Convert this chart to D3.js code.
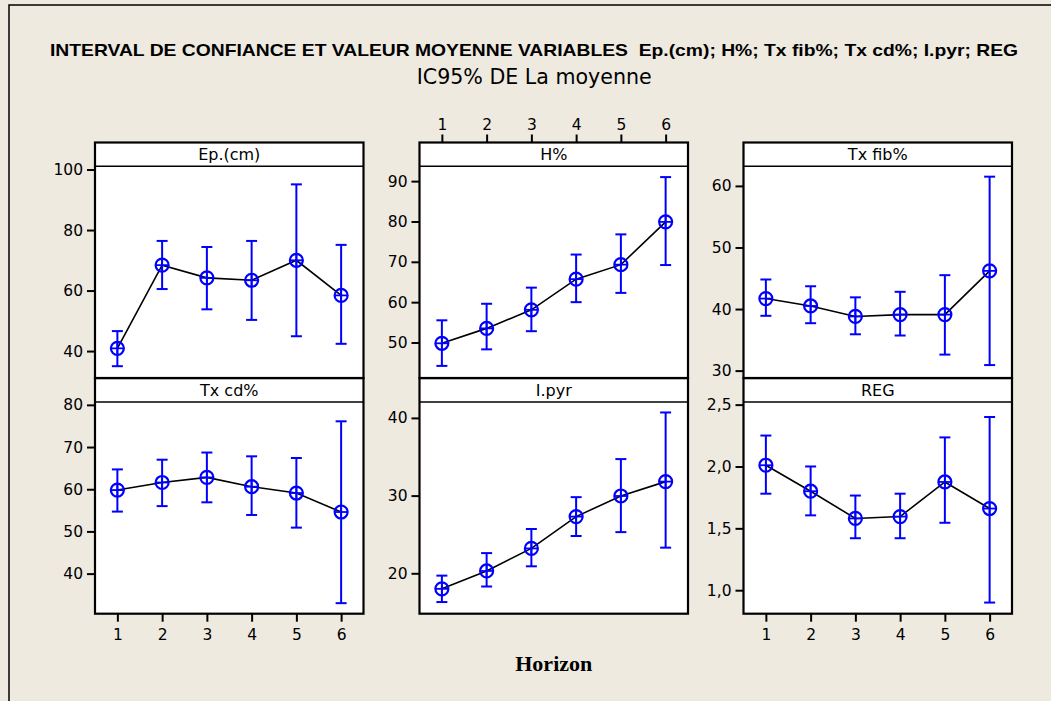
<!DOCTYPE html>
<html>
<head>
<meta charset="utf-8">
<script src="https://cdn.jsdelivr.net/npm/d3@7"></script>
<style>
  html, body { margin: 0; padding: 0; background: #EEEAE0; }
  svg { display: block; }
</style>
</head>
<body>
<div id="chart"></div>
<script>
// Horizon categories (x axis)
const horizons = [1, 2, 3, 4, 5, 6];

// Ep.(cm): mean and 95% CI
const epMean = [40.9, 68.4, 64.2, 63.4, 70.0, 58.4];
const epLow  = [35.0, 60.5, 53.8, 50.3, 44.9, 42.4];
const epHigh = [46.6, 76.4, 74.4, 76.4, 95.1, 75.1];

// H%
const hMean = [49.8, 53.5, 58.1, 65.7, 69.3, 79.9];
const hLow  = [44.2, 48.3, 52.8, 60.0, 62.3, 69.2];
const hHigh = [55.5, 59.6, 63.6, 71.8, 76.8, 91.0];

// Tx fib%
const fibMean = [41.7, 40.5, 38.8, 39.1, 39.1, 46.2];
const fibLow  = [38.9, 37.7, 35.9, 35.7, 32.6, 30.9];
const fibHigh = [44.8, 43.7, 41.9, 42.8, 45.5, 61.5];

// Tx cd%
const cdMean = [59.8, 61.6, 62.8, 60.6, 59.1, 54.6];
const cdLow  = [54.7, 56.0, 56.9, 53.9, 50.9, 33.0];
const cdHigh = [64.7, 67.0, 68.7, 67.8, 67.4, 76.1];

// I.pyr
const pyrMean = [18.0, 20.3, 23.2, 27.3, 29.95, 31.8];
const pyrLow  = [16.3, 18.3, 20.9, 24.8, 25.3, 23.3];
const pyrHigh = [19.7, 22.6, 25.7, 29.8, 34.7, 40.7];

// REG
const regMean = [2.01, 1.80, 1.58, 1.595, 1.875, 1.66];
const regLow  = [1.78, 1.605, 1.42, 1.42, 1.545, 0.90];
const regHigh = [2.25, 2.00, 1.765, 1.78, 2.235, 2.40];

// Panel names, y tick labels and y ranges
const panelNames = ["Ep.(cm)", "H%", "Tx fib%", "Tx cd%", "I.pyr", "REG"];
const epTicks  = [40, 60, 80, 100];
const hTicks   = [50, 60, 70, 80, 90];
const fibTicks = [30, 40, 50, 60];
const cdTicks  = [40, 50, 60, 70, 80];
const pyrTicks = [20, 30, 40];
const regTicks = [1.0, 1.5, 2.0, 2.5];
const epRange  = [31.1, 101.1];
const hRange   = [41.2, 93.7];
const fibRange = [28.8, 63.2];
const cdRange  = [30.5, 80.7];
const pyrRange = [14.8, 42.06];
const regRange = [0.81, 2.522];

const titleText = "INTERVAL DE CONFIANCE ET VALEUR MOYENNE VARIABLES  Ep.(cm); H%; Tx fib%; Tx cd%; I.pyr; REG";
const subtitleText = "IC95% DE La moyenne";
const xLabel = "Horizon";

const panels = [
  { name: panelNames[0], mean: epMean,  low: epLow,  high: epHigh,  ticks: epTicks,  range: epRange,  col: 0, row: 0, xAxis: null },
  { name: panelNames[1], mean: hMean,   low: hLow,   high: hHigh,   ticks: hTicks,   range: hRange,   col: 1, row: 0, xAxis: "top" },
  { name: panelNames[2], mean: fibMean, low: fibLow, high: fibHigh, ticks: fibTicks, range: fibRange, col: 2, row: 0, xAxis: null },
  { name: panelNames[3], mean: cdMean,  low: cdLow,  high: cdHigh,  ticks: cdTicks,  range: cdRange,  col: 0, row: 1, xAxis: "bottom" },
  { name: panelNames[4], mean: pyrMean, low: pyrLow, high: pyrHigh, ticks: pyrTicks, range: pyrRange, col: 1, row: 1, xAxis: null },
  { name: panelNames[5], mean: regMean, low: regLow, high: regHigh, ticks: regTicks, range: regRange, col: 2, row: 1, xAxis: "bottom", comma: true }
];

const W = 1051, H = 701;
const colX = [95, 419.5, 743.5];
const panelW = 268.5;
const rowTop = [142.5, 378.2];
const stripH = 23.7;
const plotH = 211.8;
const blue = "#0000FF";
const tickFont = "DejaVu Sans, Verdana, sans-serif";

const svg = d3.select("#chart").append("svg")
  .attr("width", W).attr("height", H);

svg.append("rect").attr("width", W).attr("height", H).attr("fill", "#EEEAE0");

// outer frame (left and top edges visible)
svg.append("path")
  .attr("d", `M9,${H + 5} L9,5 L${W + 5},5`)
  .attr("fill", "none").attr("stroke", "#000").attr("stroke-width", 1.5);

// titles
svg.append("text")
  .attr("x", 50).attr("y", 56)
  .attr("textLength", 968).attr("lengthAdjust", "spacingAndGlyphs")
  .style("white-space", "pre")
  .attr("font-family", "Liberation Sans, Arial, sans-serif")
  .attr("font-weight", "bold").attr("font-size", 17)
  .attr("fill", "#000")
  .text(titleText);

svg.append("text")
  .attr("x", 416.7).attr("y", 84.3)
  .attr("textLength", 235).attr("lengthAdjust", "spacingAndGlyphs")
  .attr("font-family", tickFont).attr("font-size", 21)
  .attr("fill", "#000")
  .text(subtitleText);

panels.forEach(p => {
  const x0 = colX[p.col];
  const top = rowTop[p.row];
  const plotTop = top + stripH;
  const g = svg.append("g");

  const x = d3.scaleLinear().domain([0.5, 6.5]).range([x0, x0 + panelW]);
  const y = d3.scaleLinear().domain(p.range).range([plotTop + plotH, plotTop]);

  // plot area and strip
  g.append("rect")
    .attr("x", x0).attr("y", plotTop).attr("width", panelW).attr("height", plotH)
    .attr("fill", "#fff");
  g.append("rect")
    .attr("x", x0).attr("y", top).attr("width", panelW).attr("height", stripH)
    .attr("fill", "#fff");

  g.append("text")
    .attr("x", x0 + panelW / 2).attr("y", top + stripH / 2 + 6)
    .attr("text-anchor", "middle")
    .attr("font-family", tickFont).attr("font-size", 16)
    .attr("fill", "#000")
    .text(p.name);

  // y axis
  const fmt = p.comma ? (d => d3.format(".1f")(d).replace(".", ",")) : d3.format("d");
  const yAxis = g.append("g")
    .attr("transform", `translate(${x0},0)`)
    .call(d3.axisLeft(y).tickValues(p.ticks).tickFormat(fmt).tickSize(8).tickPadding(4));
  yAxis.select(".domain").remove();
  yAxis.selectAll(".tick line").attr("stroke", "#000").attr("stroke-width", 2);
  yAxis.selectAll(".tick text")
    .attr("font-family", tickFont).attr("font-size", 15.5).attr("fill", "#000");

  // x axis
  if (p.xAxis) {
    const isTop = p.xAxis === "top";
    const axisGen = (isTop ? d3.axisTop(x) : d3.axisBottom(x))
      .tickValues(horizons).tickFormat(d3.format("d")).tickSize(8).tickPadding(isTop ? 5 : 7);
    const xAxis = g.append("g")
      .attr("transform", `translate(0,${isTop ? top : plotTop + plotH})`)
      .call(axisGen);
    xAxis.select(".domain").remove();
    xAxis.selectAll(".tick line").attr("stroke", "#000").attr("stroke-width", 2);
    xAxis.selectAll(".tick text")
      .attr("font-family", tickFont).attr("font-size", 15.5).attr("fill", "#000");
  }

  // connecting line through the means
  const line = d3.line().x((d, i) => x(horizons[i])).y(d => y(d));
  g.append("path")
    .attr("d", line(p.mean))
    .attr("fill", "none").attr("stroke", "#000").attr("stroke-width", 1.6);

  // confidence interval bars
  const capW = 5.5;
  const bars = g.selectAll(".ci").data(horizons).enter().append("g").attr("class", "ci");
  bars.append("line")
    .attr("x1", d => x(d)).attr("x2", d => x(d))
    .attr("y1", (d, i) => y(p.low[i])).attr("y2", (d, i) => y(p.high[i]))
    .attr("stroke", blue).attr("stroke-width", 2);
  bars.append("line")
    .attr("x1", d => x(d) - capW).attr("x2", d => x(d) + capW)
    .attr("y1", (d, i) => y(p.high[i])).attr("y2", (d, i) => y(p.high[i]))
    .attr("stroke", blue).attr("stroke-width", 2);
  bars.append("line")
    .attr("x1", d => x(d) - capW).attr("x2", d => x(d) + capW)
    .attr("y1", (d, i) => y(p.low[i])).attr("y2", (d, i) => y(p.low[i]))
    .attr("stroke", blue).attr("stroke-width", 2);

  // mean markers: circle with cross
  const r = 6.5;
  const marks = g.selectAll(".mk").data(horizons).enter().append("g").attr("class", "mk")
    .attr("transform", (d, i) => `translate(${x(d)},${y(p.mean[i])})`);
  marks.append("circle").attr("r", r)
    .attr("fill", "none").attr("stroke", blue).attr("stroke-width", 2.2);
  marks.append("line").attr("x1", -r).attr("x2", r).attr("y1", 0).attr("y2", 0)
    .attr("stroke", blue).attr("stroke-width", 1.8);
  marks.append("line").attr("x1", 0).attr("x2", 0).attr("y1", -r).attr("y2", r)
    .attr("stroke", blue).attr("stroke-width", 1.8);

  // panel borders
  g.append("rect")
    .attr("x", x0).attr("y", top).attr("width", panelW).attr("height", stripH + plotH)
    .attr("fill", "none").attr("stroke", "#000").attr("stroke-width", 2.2);
  g.append("line")
    .attr("x1", x0).attr("x2", x0 + panelW).attr("y1", plotTop).attr("y2", plotTop)
    .attr("stroke", "#000").attr("stroke-width", 1.5);
});

// x axis title
svg.append("text")
  .attr("x", colX[1] + panelW / 2).attr("y", 671)
  .attr("text-anchor", "middle")
  .attr("font-family", "Liberation Serif, Times New Roman, serif")
  .attr("font-weight", "bold").attr("font-size", 22)
  .attr("fill", "#000")
  .text(xLabel);
</script>
</body>
</html>
